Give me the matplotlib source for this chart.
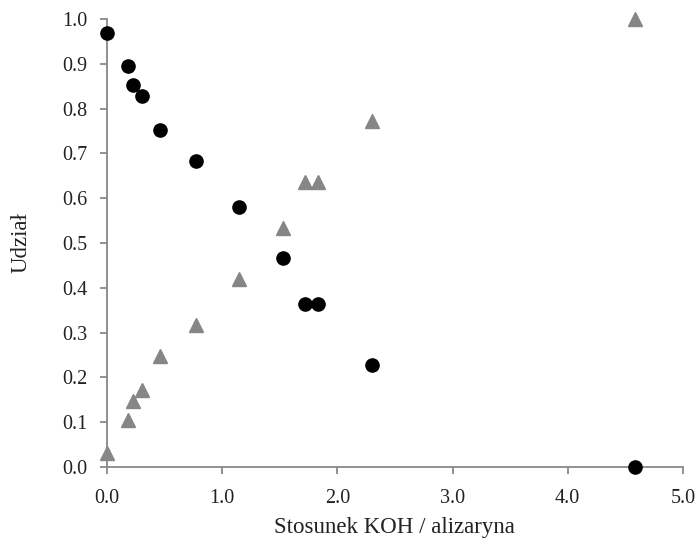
import matplotlib
matplotlib.use("Agg")
import matplotlib.pyplot as plt

# KOH / alizarin molar ratio and fractions of the two forms
ratio = [0.0, 0.18, 0.23, 0.30, 0.46, 0.77, 1.15, 1.53, 1.72, 1.83, 2.30, 4.58]
frac_neutral = [0.969, 0.895, 0.853, 0.828, 0.752, 0.683, 0.580, 0.467, 0.364, 0.364, 0.228, 0.0]
frac_anion = [0.031, 0.105, 0.147, 0.172, 0.248, 0.317, 0.420, 0.533, 0.636, 0.636, 0.772, 1.0]

x_ticks = [0.0, 1.0, 2.0, 3.0, 4.0, 5.0]
y_ticks = [0.0, 0.1, 0.2, 0.3, 0.4, 0.5, 0.6, 0.7, 0.8, 0.9, 1.0]

plt.rcParams["font.family"] = ["Liberation Serif", "DejaVu Serif"]

fig = plt.figure(figsize=(6.99, 5.46), dpi=100)
ax = fig.add_axes([0.153, 0.1447, 0.824, 0.8205])

ax.plot(ratio, frac_anion, linestyle="none", marker="^", markersize=10,
        color="#868686", clip_on=False, zorder=3)
ax.plot(ratio, frac_neutral, linestyle="none", marker="o", markersize=9.5,
        color="black", clip_on=False, zorder=4)

ax.set_xlim(0, 5)
ax.set_ylim(0, 1)
ax.set_xticks(x_ticks)
ax.set_yticks(y_ticks)
ax.set_xticklabels([f"{v:.1f}" for v in x_ticks])
ax.set_yticklabels([f"{v:.1f}" for v in y_ticks])

for side in ("top", "right"):
    ax.spines[side].set_visible(False)
for side in ("left", "bottom"):
    ax.spines[side].set_color("#888888")
    ax.spines[side].set_linewidth(1.3)

ax.tick_params(axis="both", direction="out", length=5, width=1.3,
               color="#888888", labelsize=14.5, labelcolor="#222222")
ax.tick_params(axis="x", pad=11)
ax.tick_params(axis="y", pad=9)

ax.set_xlabel("Stosunek KOH / alizaryna", fontsize=16.5, labelpad=6,
              color="#222222")
ax.set_ylabel("Udział", fontsize=16.5, labelpad=22, color="#222222")

fig.savefig("out.png", dpi=100, facecolor="white")
